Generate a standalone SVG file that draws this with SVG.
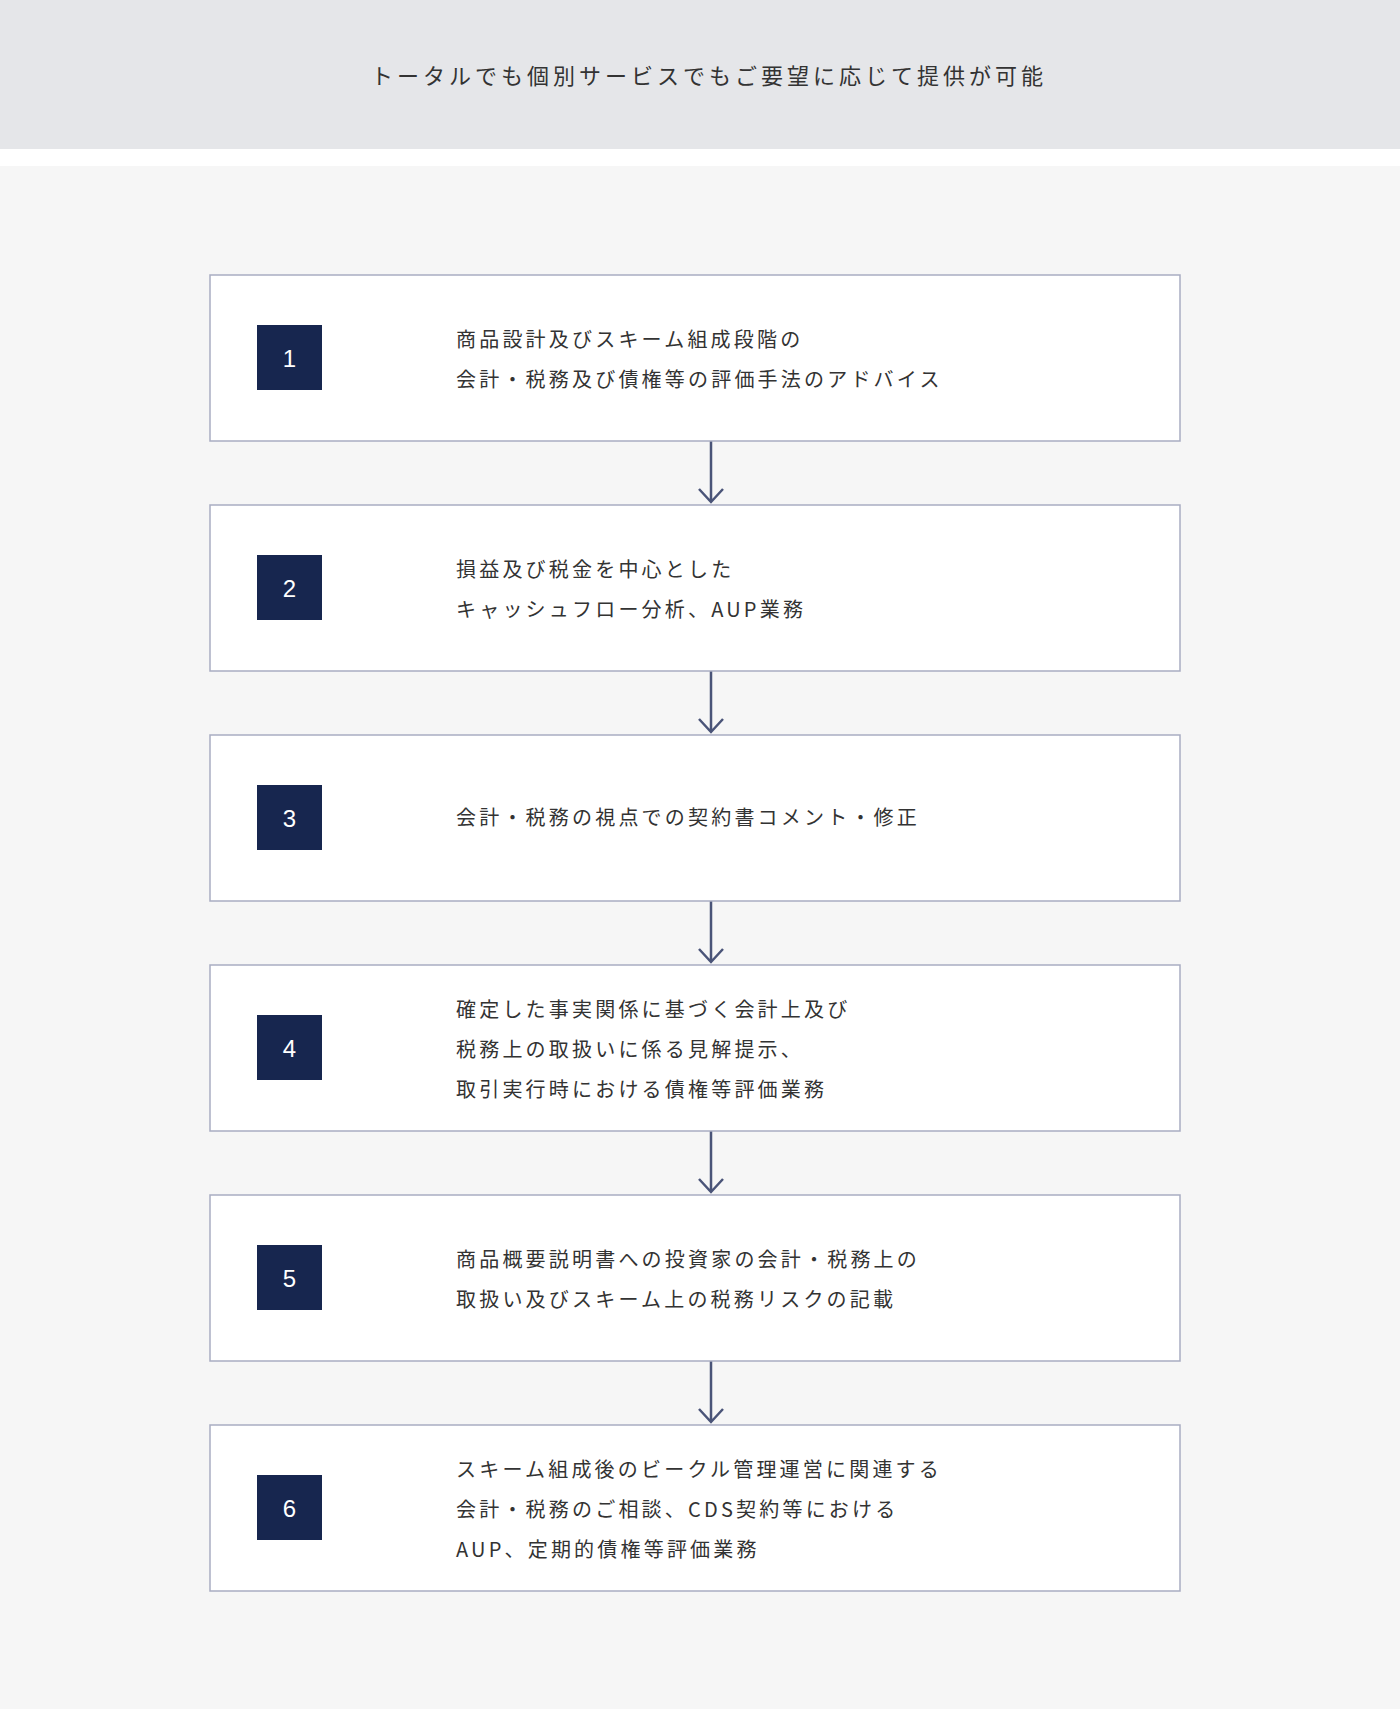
<svg xmlns="http://www.w3.org/2000/svg" width="1400" height="1709" viewBox="0 0 1400 1709">
<style>
.t{font-family:"Noto Sans CJK JP","Noto Sans",sans-serif;fill:#333;font-size:20px;letter-spacing:3.2px;dominant-baseline:central}
.box{fill:#fff;stroke:#a9adc2;stroke-width:1.5}
.sq{fill:#17264f}
.n{font-family:"Liberation Sans",Arial,sans-serif;fill:#fff;font-size:24px;text-anchor:middle;dominant-baseline:central}
.c{stroke:#4a5478;stroke-width:2.5;fill:none}
</style>
<rect width="1400" height="1709" fill="#fff"/>
<rect width="1400" height="149" fill="#e5e6e9"/>
<rect y="166" width="1400" height="1543" fill="#f6f6f6"/>
<text class="t" x="709" y="74" style="font-size:22px;letter-spacing:4px;text-anchor:middle">トータルでも個別サービスでもご要望に応じて提供が可能</text>
<g id="connectors">
<path class="c" d="M711 441V502M699 489L711 502L723 489"/>
<path class="c" d="M711 671V732M699 719L711 732L723 719"/>
<path class="c" d="M711 901V962M699 949L711 962L723 949"/>
<path class="c" d="M711 1131V1192M699 1179L711 1192L723 1179"/>
<path class="c" d="M711 1361V1422M699 1409L711 1422L723 1409"/>
</g>
<g id="n1"><rect class="box" x="210" y="275" width="970" height="166"/><rect class="sq" x="257" y="325" width="65" height="65"/><text class="n" x="289.5" y="358">1</text>
<text class="t" x="456" y="338">商品設計及びスキーム組成段階の</text><text class="t" x="456" y="378">会計・税務及び債権等の評価手法のアドバイス</text></g>
<g id="n2"><rect class="box" x="210" y="505" width="970" height="166"/><rect class="sq" x="257" y="555" width="65" height="65"/><text class="n" x="289.5" y="588">2</text>
<text class="t" x="456" y="568">損益及び税金を中心とした</text><text class="t" x="456" y="608">キャッシュフロー分析、AUP業務</text></g>
<g id="n3"><rect class="box" x="210" y="735" width="970" height="166"/><rect class="sq" x="257" y="785" width="65" height="65"/><text class="n" x="289.5" y="818">3</text>
<text class="t" x="456" y="816">会計・税務の視点での契約書コメント・修正</text></g>
<g id="n4"><rect class="box" x="210" y="965" width="970" height="166"/><rect class="sq" x="257" y="1015" width="65" height="65"/><text class="n" x="289.5" y="1048">4</text>
<text class="t" x="456" y="1008">確定した事実関係に基づく会計上及び</text><text class="t" x="456" y="1048">税務上の取扱いに係る見解提示、</text><text class="t" x="456" y="1088">取引実行時における債権等評価業務</text></g>
<g id="n5"><rect class="box" x="210" y="1195" width="970" height="166"/><rect class="sq" x="257" y="1245" width="65" height="65"/><text class="n" x="289.5" y="1278">5</text>
<text class="t" x="456" y="1258">商品概要説明書への投資家の会計・税務上の</text><text class="t" x="456" y="1298">取扱い及びスキーム上の税務リスクの記載</text></g>
<g id="n6"><rect class="box" x="210" y="1425" width="970" height="166"/><rect class="sq" x="257" y="1475" width="65" height="65"/><text class="n" x="289.5" y="1508">6</text>
<text class="t" x="456" y="1468">スキーム組成後のビークル管理運営に関連する</text><text class="t" x="456" y="1508">会計・税務のご相談、CDS契約等における</text><text class="t" x="456" y="1548">AUP、定期的債権等評価業務</text></g>
</svg>
